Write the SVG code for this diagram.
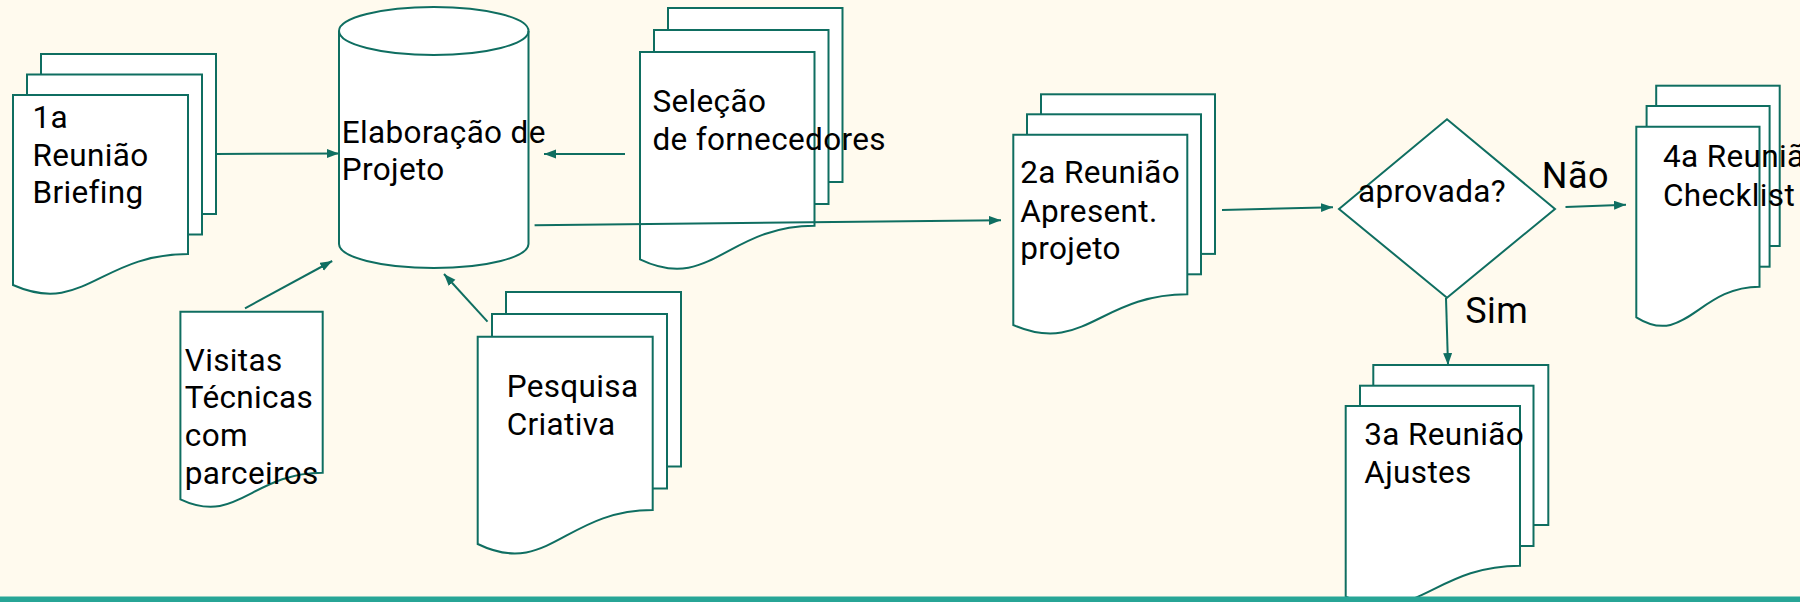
<svg xmlns="http://www.w3.org/2000/svg" width="1800" height="602" viewBox="0 0 1800 602">
<defs>
<style>
.pg{fill:#ffffff;stroke:#0f6e61;stroke-width:2}
.cn{fill:none;stroke:#0f6e61;stroke-width:2}
.t{font-family:Roboto,"Liberation Sans",sans-serif;font-size:31.5px;letter-spacing:0.35px;fill:#000}
.tl{font-family:Roboto,"Liberation Sans",sans-serif;font-size:36px;letter-spacing:0.5px;fill:#000}
</style>
<marker id="ah" markerUnits="userSpaceOnUse" markerWidth="14" markerHeight="10" refX="12" refY="4.5" orient="auto">
<path d="M0,0 L12,4.5 L0,9 Z" fill="#0f6e61"/>
</marker>
</defs>
<rect x="0" y="0" width="1800" height="602" fill="#fffaee"/>

<g id="briefing">
<rect class="pg" x="41" y="54" width="175" height="160"/>
<rect class="pg" x="27" y="74.5" width="175" height="160"/>
<path class="pg" d="M13,95 H188 V254 C100.5,254 83,316 13,285 Z"/>
<text class="t" x="32.5" y="127.7">1a</text>
<text class="t" x="32.5" y="165.7">Reunião</text>
<text class="t" x="32.5" y="203.3">Briefing</text>
</g>

<g id="elaboracao">
<path class="pg" d="M339,31 V244 A94.75,24 0 0 0 528.5,244 V31 A94.75,24 0 0 0 339,31 Z"/>
<path class="cn" d="M339,31 A94.75,24 0 0 0 528.5,31"/>
<text class="t" x="341.8" y="142.7">Elaboração de</text>
<text class="t" x="341.8" y="180">Projeto</text>
</g>

<g id="selecao">
<rect class="pg" x="668" y="8" width="174.5" height="174"/>
<rect class="pg" x="654" y="30" width="174.5" height="174"/>
<path class="pg" d="M640,52 H814.5 V225.7 C727,225.7 710,293 640,259.3 Z"/>
<text class="t" x="652.4" y="112.3">Seleção</text>
<text class="t" x="652.4" y="150">de fornecedores</text>
</g>

<g id="visitas">
<path class="pg" d="M180.4,311.7 H322.7 V472.7 C251.5,472.7 237.3,526 180.4,499.3 Z"/>
<text class="t" x="184.8" y="370.7">Visitas</text>
<text class="t" x="184.8" y="408.3">Técnicas</text>
<text class="t" x="184.8" y="445.7">com</text>
<text class="t" x="184.8" y="484">parceiros</text>
</g>

<g id="pesquisa">
<rect class="pg" x="506" y="292" width="175" height="174.5"/>
<rect class="pg" x="492" y="314" width="175" height="174.5"/>
<path class="pg" d="M477.7,336.7 H652.7 V510 C565.2,510 547.7,578 477.7,544 Z"/>
<text class="t" x="506.7" y="397.3">Pesquisa</text>
<text class="t" x="506.7" y="435">Criativa</text>
</g>

<g id="reuniao2">
<rect class="pg" x="1041" y="94.3" width="174" height="159.6"/>
<rect class="pg" x="1027" y="114.3" width="174" height="160"/>
<path class="pg" d="M1013.3,134.7 H1187.3 V294.3 C1100.3,294.3 1082.9,355.7 1013.3,325 Z"/>
<text class="t" x="1020.2" y="183.3">2a Reunião</text>
<text class="t" x="1020.2" y="221.7">Apresent.</text>
<text class="t" x="1020.2" y="259.3">projeto</text>
</g>

<g id="aprovada">
<path class="pg" d="M1339,209 L1447,119.3 L1555,209 L1447,297.7 Z"/>
<text class="t" x="1358" y="201.7">aprovada?</text>
</g>

<g id="reuniao4">
<rect class="pg" x="1656.2" y="85.7" width="123.5" height="160.3"/>
<rect class="pg" x="1646.6" y="106" width="123" height="160.7"/>
<path class="pg" d="M1636.3,126.7 H1759.5 V286.7 C1697.9,286.7 1685.6,348 1636.3,317.3 Z"/>
<text class="t" x="1663" y="167.3">4a Reunião</text>
<text class="t" x="1663" y="205.7">Checklist</text>
</g>

<g id="reuniao3">
<rect class="pg" x="1373.3" y="365" width="175" height="160"/>
<rect class="pg" x="1360" y="385.7" width="173.5" height="160.3"/>
<path class="pg" d="M1345.7,406 H1520 V565.7 C1432.9,565.7 1415.4,627.7 1345.7,596.7 Z"/>
<text class="t" x="1364.3" y="445">3a Reunião</text>
<text class="t" x="1364.3" y="483.3">Ajustes</text>
</g>

<g id="labels">
<text class="tl" x="1541.8" y="188.3">Não</text>
<text class="tl" x="1465.2" y="322.7">Sim</text>
</g>

<g id="connectors">
<line class="cn" x1="216" y1="154" x2="339" y2="153.5" marker-end="url(#ah)"/>
<line class="cn" x1="625" y1="154" x2="544" y2="154" marker-end="url(#ah)"/>
<line class="cn" x1="534.6" y1="225.3" x2="1001" y2="220.3" marker-end="url(#ah)"/>
<line class="cn" x1="245" y1="308.3" x2="332.2" y2="261" marker-end="url(#ah)"/>
<line class="cn" x1="487.5" y1="321.7" x2="444" y2="274" marker-end="url(#ah)"/>
<line class="cn" x1="1222" y1="210" x2="1333" y2="207.3" marker-end="url(#ah)"/>
<line class="cn" x1="1565.5" y1="207" x2="1626" y2="204.7" marker-end="url(#ah)"/>
<line class="cn" x1="1446" y1="298" x2="1448" y2="365" marker-end="url(#ah)"/>
</g>

<rect x="0" y="596.5" width="1800" height="5.5" fill="#27a596"/>
</svg>
